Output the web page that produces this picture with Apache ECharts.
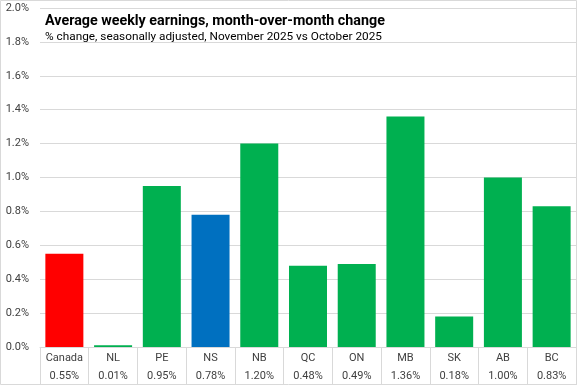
<!DOCTYPE html>
<html><head><meta charset="utf-8">
<script src="https://cdn.jsdelivr.net/npm/echarts@6/dist/echarts.min.js"></script>
<style>html,body{margin:0;padding:0;background:#fff}#c{width:577px;height:385px}</style>
</head><body><div id="c"></div>
<script>
const categories = ['Canada','NL','PE','NS','NB','QC','ON','MB','SK','AB','BC'];
const values = [0.55,0.01,0.95,0.78,1.20,0.48,0.49,1.36,0.18,1.00,0.83];
const barColors = ['#FF0000','#00B050','#00B050','#0070C0','#00B050','#00B050','#00B050','#00B050','#00B050','#00B050','#00B050'];
const yTicks = [0,0.2,0.4,0.6,0.8,1.0,1.2,1.4,1.6,1.8,2.0];
const titleText = 'Average weekly earnings, month-over-month change';
const subtitleText = '% change, seasonally adjusted, November 2025 vs October 2025';

const chart = echarts.init(document.getElementById('c'), null, {renderer:'canvas'});
chart.setOption({
  animation:false,
  textStyle:{fontFamily:'Roboto'},
  title:{
    text:titleText, subtext:subtitleText, left:40, top:9, itemGap:3,
    textStyle:{fontSize:14.3, fontWeight:'bold', color:'#000', fontFamily:'Roboto'},
    subtextStyle:{fontSize:11.8, color:'#000', fontFamily:'Roboto'}
  },
  graphic:[{type:'rect', shape:{x:0.5,y:0.5,width:576,height:384}, style:{fill:'none', stroke:'#D9D9D9', lineWidth:1}, silent:true}],
  grid:{left:40, right:1, top:8, bottom:38},
  xAxis:{
    type:'category', data:categories,
    axisLine:{lineStyle:{color:'#D9D9D9'}},
    axisTick:{show:true, length:38, lineStyle:{color:'#D9D9D9'}},
    axisLabel:{
      interval:0, margin:2,
      formatter:(v,i)=>'{a|'+v+'}\n{a|'+values[i].toFixed(2)+'%}',
      rich:{a:{fontSize:11, color:'#404040', lineHeight:18, fontFamily:'Roboto'}}
    }
  },
  yAxis:{
    type:'value', min:yTicks[0], max:yTicks[yTicks.length-1], interval:0.2,
    axisLine:{show:false}, axisTick:{show:false},
    splitLine:{lineStyle:{color:'#D9D9D9'}},
    axisLabel:{formatter:v=>v.toFixed(1)+'%', fontSize:11, color:'#404040', margin:11}
  },
  series:[{
    type:'bar', barWidth:'78%',
    data:values.map((v,i)=>({value:v, itemStyle:{color:barColors[i]}}))
  }]
});
</script></body></html>
